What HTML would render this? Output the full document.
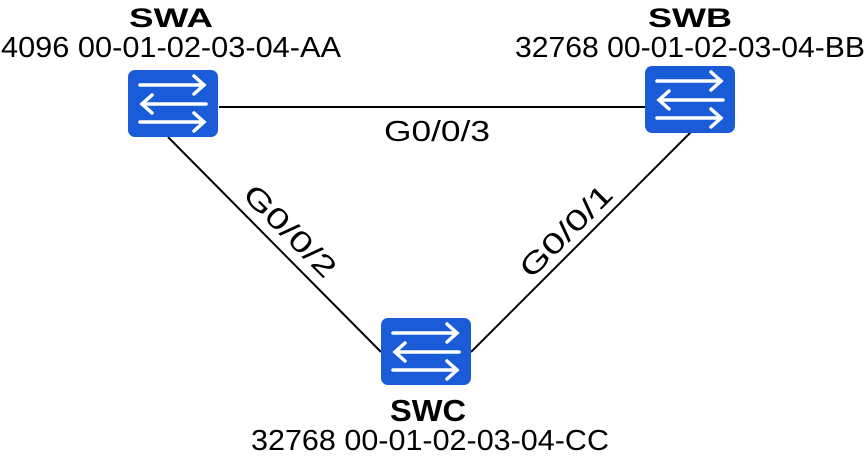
<!DOCTYPE html>
<html><head><style>
body{margin:0;background:#fff;}
</style></head><body>
<svg width="867" height="455" viewBox="0 0 867 455" xmlns="http://www.w3.org/2000/svg" font-family="Liberation Sans, DejaVu Sans, sans-serif">
<defs>
<g id="sw">
<rect x="0" y="0" width="90" height="67" rx="7" fill="#1a5cd8"/>
<g stroke="#fff" stroke-width="3.5" fill="none" stroke-linecap="round">
<line x1="12" y1="15" x2="76" y2="15"/><polyline points="66,6 76,15 66,24"/>
<line x1="14" y1="34" x2="78" y2="34"/><polyline points="24,25 14,34 24,43"/>
<line x1="12" y1="52" x2="76" y2="52"/><polyline points="66,43 76,52 66,61"/>
</g>
</g>
</defs>
<g stroke="#000" stroke-width="2">
<line x1="219" y1="107" x2="645" y2="107"/>
<line x1="168" y1="137" x2="381" y2="352"/>
<line x1="693" y1="130" x2="471" y2="352"/>
</g>
<use href="#sw" x="128" y="70"/>
<use href="#sw" x="645" y="66"/>
<use href="#sw" x="381" y="318"/>
<g font-size="29" fill="#000" text-anchor="middle">
<text x="171" y="27" font-weight="bold" font-size="27" textLength="84" lengthAdjust="spacingAndGlyphs">SWA</text>
<text x="171" y="57" textLength="340" lengthAdjust="spacingAndGlyphs">4096 00-01-02-03-04-AA</text>
<text x="690" y="27" font-weight="bold" font-size="27" textLength="84" lengthAdjust="spacingAndGlyphs">SWB</text>
<text x="690" y="57" textLength="350" lengthAdjust="spacingAndGlyphs">32768 00-01-02-03-04-BB</text>
<text x="428" y="421" font-weight="bold" font-size="31" textLength="76" lengthAdjust="spacingAndGlyphs">SWC</text>
<text x="430" y="450" textLength="358" lengthAdjust="spacingAndGlyphs">32768 00-01-02-03-04-CC</text>
<text x="437" y="141" textLength="106" lengthAdjust="spacingAndGlyphs">G0/0/3</text>
<text transform="translate(283,238) rotate(45)" textLength="118" lengthAdjust="spacingAndGlyphs">G0/0/2</text>
<text transform="translate(573,238) rotate(-45)" textLength="118" lengthAdjust="spacingAndGlyphs">G0/0/1</text>
</g>
</svg>
</body></html>
